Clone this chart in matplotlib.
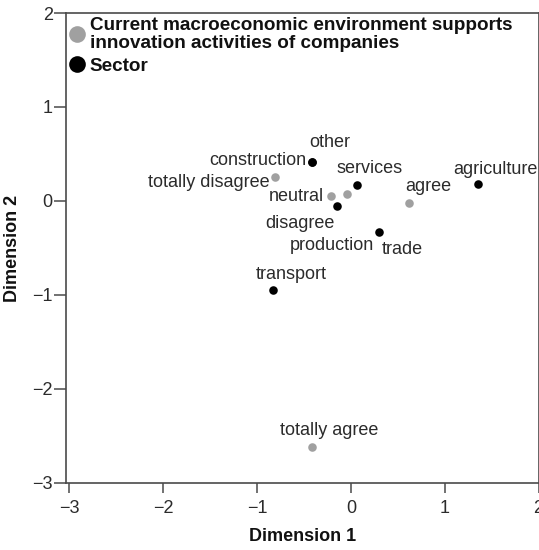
import matplotlib
matplotlib.use("Agg")
import matplotlib.pyplot as plt
from matplotlib.lines import Line2D

plt.rcParams["font.family"] = ["Liberation Sans", "DejaVu Sans"]

# category points, question: "Current macroeconomic environment supports innovation..."
answer_labels = ["totally disagree", "disagree", "neutral", "agree", "totally agree"]
answer_x = [-0.81, -0.04, -0.21, 0.62, -0.41]
answer_y = [0.26, 0.07, 0.05, -0.02, -2.62]

# category points, sector
sector_labels = ["construction", "other", "services", "production", "trade",
                 "agriculture", "transport"]
sector_x = [-0.41, -0.41, 0.07, -0.15, 0.30, 1.36, -0.83]
sector_y = [0.42, 0.42, 0.17, -0.05, -0.33, 0.18, -0.95]

legend_labels = ["Current macroeconomic environment supports\ninnovation activities of companies",
                 "Sector"]

# label placement, pixel offsets from the point (dx, dy, ha)
label_pos = {
    "other": (17, 19, "center"),
    "construction": (-6, 1, "right"),
    "totally disagree": (-5, -6, "right"),
    "services": (12, 17, "center"),
    "neutral": (-7, 0, "right"),
    "disagree": (-47, -29, "center"),
    "production": (-5, -40, "center"),
    "trade": (3, -17, "left"),
    "agree": (19, 16, "center"),
    "agriculture": (17, 15, "center"),
    "transport": (18, 16, "center"),
    "totally agree": (17, 17, "center"),
}

GRAY = "#a0a0a0"
INK = "#2b2b2b"
AXC = "#4a4a4a"
FS = 13

fig = plt.figure(figsize=(5.39, 5.50), dpi=100)
W, H = 539, 550
ax = fig.add_axes([66 / W, (H - 483) / H, (538.5 - 66) / W, (483 - 13) / H])

ax.scatter(answer_x, answer_y, s=38, color=GRAY, zorder=3, linewidths=0)
ax.scatter(sector_x, sector_y, s=38, color="black", zorder=3, linewidths=0)

for lab, x, y in list(zip(answer_labels, answer_x, answer_y)) + \
        list(zip(sector_labels, sector_x, sector_y)):
    dx, dy, ha = label_pos[lab]
    ax.annotate(lab, (x, y), xytext=(dx, dy), textcoords="offset pixels",
                ha=ha, va="center", fontsize=FS, color=INK)

ax.set_xlim(-3.035, 2.0)
ax.set_ylim(-3, 2)
ax.set_xticks([-3, -2, -1, 0, 1, 2])
ax.set_yticks([-3, -2, -1, 0, 1, 2])

for sp in ax.spines.values():
    sp.set_color(AXC)
    sp.set_linewidth(1.2)
ax.tick_params(axis="x", direction="out", length=7, width=1.1, color=AXC,
               labelsize=FS, labelcolor=INK, pad=5)
ax.tick_params(axis="y", direction="out", length=8.5, width=1.1, color=AXC,
               labelsize=FS, labelcolor=INK, pad=1)

ax.set_xlabel("Dimension 1", fontsize=FS, fontweight="bold", color="#111111", labelpad=8)
ax.set_ylabel("Dimension 2", fontsize=FS, fontweight="bold", color="#111111", labelpad=8)

handles = [Line2D([], [], marker="o", linestyle="none", markersize=12,
                  markerfacecolor=GRAY, markeredgewidth=0),
           Line2D([], [], marker="o", linestyle="none", markersize=12,
                  markerfacecolor="black", markeredgewidth=0)]
leg = ax.legend(handles, legend_labels, loc="upper left",
                bbox_to_anchor=(2 / (538.5 - 66), 1 - 4 / 470),
                frameon=False, borderpad=0, borderaxespad=0, handlelength=1.0,
                handletextpad=0.15, labelspacing=0.3,
                prop={"size": 13.6, "weight": "bold"})
for t in leg.get_texts():
    t.set_color("#111111")
    t.set_linespacing(1.05)

fig.savefig("out.png", dpi=100)
